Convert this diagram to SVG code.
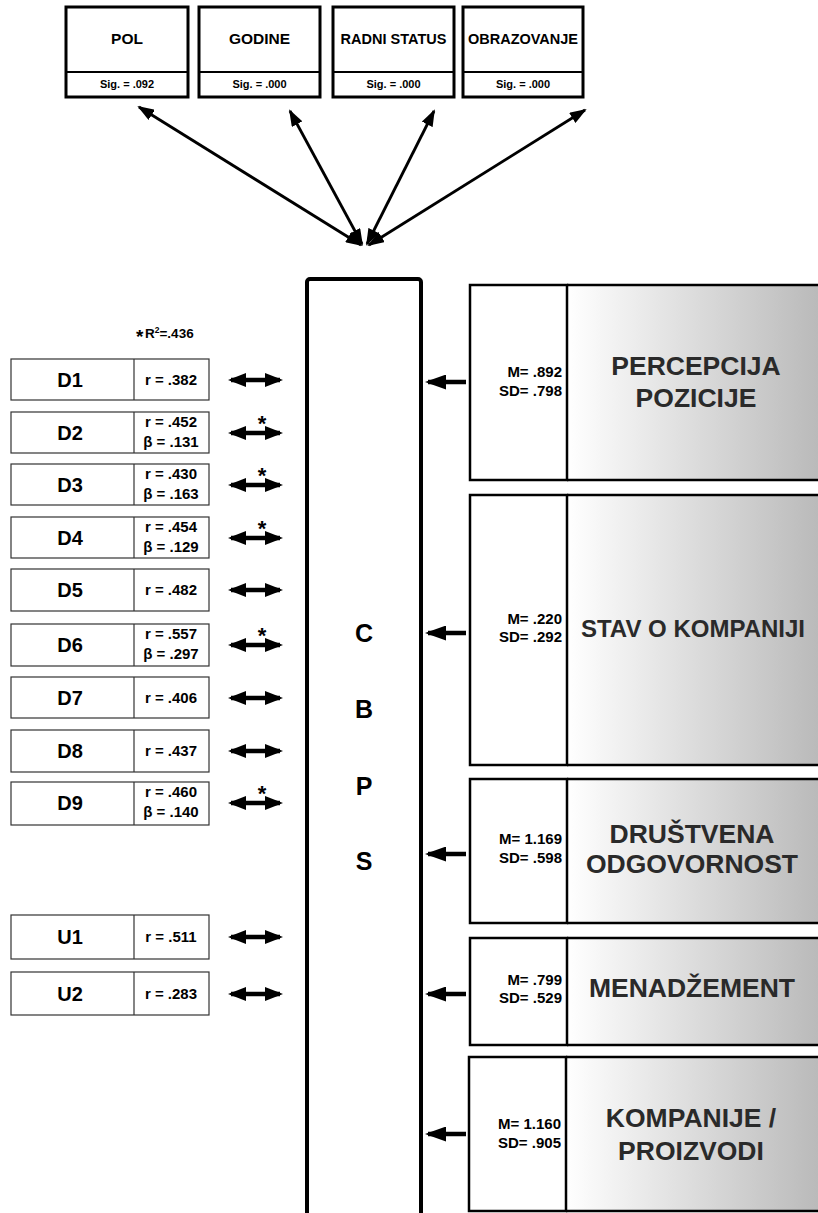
<svg xmlns="http://www.w3.org/2000/svg" width="818" height="1213" viewBox="0 0 818 1213">
  <style>
    .t { font-family: "Liberation Sans", Arial, sans-serif; font-weight: bold; fill: #000; }
    .top { fill: #fff; stroke: #000; stroke-width: 3; }
    .div { stroke: #000; stroke-width: 2; }
    .lbox { fill: #fff; stroke: #333; stroke-width: 1.2; }
    .sep { stroke: #333; stroke-width: 1.2; }
    .rbox { stroke: #000; stroke-width: 2.5; }
    .shaded { fill: url(#shade); stroke: none; }
    .edge { stroke: #000; stroke-width: 2.5; fill: none; }
    .title { font-family: "Liberation Sans", Arial, sans-serif; font-weight: bold; fill: #2a2a2a; font-size: 26.5px; text-anchor: middle; }
    .ms { font-family: "Liberation Sans", Arial, sans-serif; font-weight: bold; fill: #000; font-size: 15px; text-anchor: end; }
    .dl { font-size: 20px; text-anchor: middle; }
    .rv { font-size: 15px; text-anchor: middle; }
    .hd { font-size: 15.5px; text-anchor: middle; }
    .sig { font-size: 11px; text-anchor: middle; }
    .star { font-size: 22px; text-anchor: middle; }
    .fan { stroke: #000; stroke-width: 2.8; fill: none; }
    .dbl { stroke: #000; stroke-width: 4.5; fill: none; }
    .single { stroke: #000; stroke-width: 4.5; fill: none; }
  </style>
  <defs>
    <linearGradient id="shade" x1="0" y1="0" x2="1" y2="0">
      <stop offset="0" stop-color="#ffffff"/>
      <stop offset="1" stop-color="#bababa"/>
    </linearGradient>
    <marker id="headFan" viewBox="0 0 17 12" markerWidth="17" markerHeight="12" refX="15" refY="6" orient="auto-start-reverse" markerUnits="userSpaceOnUse">
      <path d="M0,0 L17,6 L0,12 z" fill="#000"/>
    </marker>
    <marker id="headDbl" viewBox="0 0 18 14" markerWidth="18" markerHeight="14" refX="15" refY="7" orient="auto-start-reverse" markerUnits="userSpaceOnUse">
      <path d="M0,0 L18,7 L0,14 z" fill="#000"/>
    </marker>
    <marker id="headBig" viewBox="0 0 21 15" markerWidth="21" markerHeight="15" refX="18" refY="7.5" orient="auto" markerUnits="userSpaceOnUse">
      <path d="M0,0 L21,7.5 L0,15 z" fill="#000"/>
    </marker>
  </defs>

  <!-- demographic variables -->
  <g id="pol">
    <rect class="top" x="66" y="7" width="122" height="90"/>
    <line class="div" x1="66" y1="72" x2="188" y2="72"/>
    <text class="t hd" x="127" y="44">POL</text>
    <text class="t sig" x="127" y="88">Sig. = .092</text>
  </g>
  <g id="godine">
    <rect class="top" x="199" y="7" width="121" height="90"/>
    <line class="div" x1="199" y1="72" x2="320" y2="72"/>
    <text class="t hd" x="259.5" y="44">GODINE</text>
    <text class="t sig" x="259.5" y="88">Sig. = .000</text>
  </g>
  <g id="radni-status">
    <rect class="top" x="333" y="7" width="121" height="90"/>
    <line class="div" x1="333" y1="72" x2="454" y2="72"/>
    <text class="t" x="393.5" y="44" font-size="14.5" text-anchor="middle">RADNI STATUS</text>
    <text class="t sig" x="393.5" y="88">Sig. = .000</text>
  </g>
  <g id="obrazovanje">
    <rect class="top" x="463" y="7" width="120" height="90"/>
    <line class="div" x1="463" y1="72" x2="583" y2="72"/>
    <text class="t" x="523" y="44" font-size="14.5" text-anchor="middle">OBRAZOVANJE</text>
    <text class="t sig" x="523" y="88">Sig. = .000</text>
  </g>

  <!-- central construct -->
  <g id="cbps">
    <rect x="307" y="279" width="114" height="960" rx="3" fill="#fff" stroke="#000" stroke-width="4"/>
    <text class="t" x="364" y="642" font-size="25" text-anchor="middle">C</text>
    <text class="t" x="364" y="718" font-size="25" text-anchor="middle">B</text>
    <text class="t" x="364" y="795" font-size="25" text-anchor="middle">P</text>
    <text class="t" x="364" y="870" font-size="25" text-anchor="middle">S</text>
  </g>

  <!-- factor boxes: white stats cell + shaded title cell running off the right edge -->
  <g id="percepcija-pozicije">
    <rect class="shaded" x="567" y="285" width="251" height="195"/>
    <path class="edge" d="M567,285 H818 M567,480 H818"/>
    <rect x="470" y="285" width="97" height="195" fill="#fff" class="rbox"/>
    <text class="ms" x="562" y="377">M= .892</text>
    <text class="ms" x="562" y="396">SD= .798</text>
    <text class="title" x="696" y="375">PERCEPCIJA</text>
    <text class="title" x="696" y="407">POZICIJE</text>
  </g>
  <g id="stav-o-kompaniji">
    <rect class="shaded" x="567" y="495" width="251" height="270"/>
    <path class="edge" d="M567,495 H818 M567,765 H818"/>
    <rect x="470" y="495" width="97" height="270" fill="#fff" class="rbox"/>
    <text class="ms" x="562" y="624">M= .220</text>
    <text class="ms" x="562" y="642">SD= .292</text>
    <text class="title" x="693" y="637" style="font-size:24px">STAV O KOMPANIJI</text>
  </g>
  <g id="drustvena-odgovornost">
    <rect class="shaded" x="567" y="779" width="251" height="144"/>
    <path class="edge" d="M567,779 H818 M567,923 H818"/>
    <rect x="470" y="779" width="97" height="144" fill="#fff" class="rbox"/>
    <text class="ms" x="562" y="844">M= 1.169</text>
    <text class="ms" x="562" y="863">SD= .598</text>
    <text class="title" x="692" y="843">DRUŠTVENA</text>
    <text class="title" x="692" y="873">ODGOVORNOST</text>
  </g>
  <g id="menadzement">
    <rect class="shaded" x="567" y="938" width="251" height="107"/>
    <path class="edge" d="M567,938 H818 M567,1045 H818"/>
    <rect x="470" y="938" width="97" height="107" fill="#fff" class="rbox"/>
    <text class="ms" x="562" y="985">M= .799</text>
    <text class="ms" x="562" y="1003">SD= .529</text>
    <text class="title" x="692" y="997">MENADŽEMENT</text>
  </g>
  <g id="kompanije-proizvodi">
    <rect class="shaded" x="566" y="1057" width="252" height="154"/>
    <path class="edge" d="M566,1057 H818 M566,1211 H818"/>
    <rect x="469" y="1057" width="97" height="154" fill="#fff" class="rbox"/>
    <text class="ms" x="561" y="1129">M= 1.160</text>
    <text class="ms" x="561" y="1148">SD= .905</text>
    <text class="title" x="691" y="1127">KOMPANIJE /</text>
    <text class="title" x="691" y="1160">PROIZVODI</text>
  </g>

  <!-- model fit -->
  <g id="r-squared">
    <text class="t" x="136" y="343" font-size="19">*</text>
    <text class="t" x="145" y="338" font-size="13.5">R<tspan font-size="8.5" dy="-5">2</tspan><tspan dy="5">=.436</tspan></text>
  </g>

  <!-- predictors -->
  <g id="d1">
    <rect class="lbox" x="11" y="359" width="198" height="41"/>
    <line class="sep" x1="134" y1="359" x2="134" y2="400"/>
    <text class="t dl" x="70" y="387">D1</text>
    <text class="t rv" x="171" y="385">r = .382</text>
  </g>
  <g id="d2">
    <rect class="lbox" x="11" y="412" width="198" height="41"/>
    <line class="sep" x1="134" y1="412" x2="134" y2="453"/>
    <text class="t dl" x="70" y="440">D2</text>
    <text class="t rv" x="171" y="427">r = .452</text>
    <text class="t rv" x="171" y="447">β = .131</text>
  </g>
  <g id="d3">
    <rect class="lbox" x="11" y="464" width="198" height="41"/>
    <line class="sep" x1="134" y1="464" x2="134" y2="505"/>
    <text class="t dl" x="70" y="492">D3</text>
    <text class="t rv" x="171" y="479">r = .430</text>
    <text class="t rv" x="171" y="499">β = .163</text>
  </g>
  <g id="d4">
    <rect class="lbox" x="11" y="517" width="198" height="41"/>
    <line class="sep" x1="134" y1="517" x2="134" y2="558"/>
    <text class="t dl" x="70" y="545">D4</text>
    <text class="t rv" x="171" y="532">r = .454</text>
    <text class="t rv" x="171" y="552">β = .129</text>
  </g>
  <g id="d5">
    <rect class="lbox" x="11" y="569" width="198" height="42"/>
    <line class="sep" x1="134" y1="569" x2="134" y2="611"/>
    <text class="t dl" x="70" y="597">D5</text>
    <text class="t rv" x="171" y="595">r = .482</text>
  </g>
  <g id="d6">
    <rect class="lbox" x="11" y="624" width="198" height="42"/>
    <line class="sep" x1="134" y1="624" x2="134" y2="666"/>
    <text class="t dl" x="70" y="652">D6</text>
    <text class="t rv" x="171" y="639">r = .557</text>
    <text class="t rv" x="171" y="659">β = .297</text>
  </g>
  <g id="d7">
    <rect class="lbox" x="11" y="677" width="198" height="41"/>
    <line class="sep" x1="134" y1="677" x2="134" y2="718"/>
    <text class="t dl" x="70" y="705">D7</text>
    <text class="t rv" x="171" y="703">r = .406</text>
  </g>
  <g id="d8">
    <rect class="lbox" x="11" y="730" width="198" height="42"/>
    <line class="sep" x1="134" y1="730" x2="134" y2="772"/>
    <text class="t dl" x="70" y="758">D8</text>
    <text class="t rv" x="171" y="756">r = .437</text>
  </g>
  <g id="d9">
    <rect class="lbox" x="11" y="782" width="198" height="43"/>
    <line class="sep" x1="134" y1="782" x2="134" y2="825"/>
    <text class="t dl" x="70" y="810">D9</text>
    <text class="t rv" x="171" y="797">r = .460</text>
    <text class="t rv" x="171" y="817">β = .140</text>
  </g>
  <g id="u1">
    <rect class="lbox" x="11" y="915" width="198" height="44"/>
    <line class="sep" x1="134" y1="915" x2="134" y2="959"/>
    <text class="t dl" x="70" y="944">U1</text>
    <text class="t rv" x="171" y="942">r = .511</text>
  </g>
  <g id="u2">
    <rect class="lbox" x="11" y="972" width="198" height="43"/>
    <line class="sep" x1="134" y1="972" x2="134" y2="1015"/>
    <text class="t dl" x="70" y="1001">U2</text>
    <text class="t rv" x="171" y="999">r = .283</text>
  </g>

  <!-- connectors -->
  <g id="connectors">
    <line class="fan" x1="139" y1="107" x2="361" y2="245" marker-start="url(#headFan)" marker-end="url(#headFan)"/>
    <line class="fan" x1="290" y1="111" x2="362" y2="244" marker-start="url(#headFan)" marker-end="url(#headFan)"/>
    <line class="fan" x1="434" y1="111" x2="367" y2="244" marker-start="url(#headFan)" marker-end="url(#headFan)"/>
    <line class="fan" x1="585" y1="110" x2="369" y2="245" marker-start="url(#headFan)" marker-end="url(#headFan)"/>

    <line class="dbl" x1="231" y1="380" x2="280" y2="380" marker-start="url(#headDbl)" marker-end="url(#headDbl)"/>
    <line class="dbl" x1="231" y1="433" x2="280" y2="433" marker-start="url(#headDbl)" marker-end="url(#headDbl)"/>
    <line class="dbl" x1="231" y1="485" x2="280" y2="485" marker-start="url(#headDbl)" marker-end="url(#headDbl)"/>
    <line class="dbl" x1="231" y1="538" x2="280" y2="538" marker-start="url(#headDbl)" marker-end="url(#headDbl)"/>
    <line class="dbl" x1="231" y1="590" x2="280" y2="590" marker-start="url(#headDbl)" marker-end="url(#headDbl)"/>
    <line class="dbl" x1="231" y1="645" x2="280" y2="645" marker-start="url(#headDbl)" marker-end="url(#headDbl)"/>
    <line class="dbl" x1="231" y1="698" x2="280" y2="698" marker-start="url(#headDbl)" marker-end="url(#headDbl)"/>
    <line class="dbl" x1="231" y1="751" x2="280" y2="751" marker-start="url(#headDbl)" marker-end="url(#headDbl)"/>
    <line class="dbl" x1="231" y1="803" x2="280" y2="803" marker-start="url(#headDbl)" marker-end="url(#headDbl)"/>
    <line class="dbl" x1="231" y1="937" x2="280" y2="937" marker-start="url(#headDbl)" marker-end="url(#headDbl)"/>
    <line class="dbl" x1="231" y1="994" x2="280" y2="994" marker-start="url(#headDbl)" marker-end="url(#headDbl)"/>

    <text class="t star" x="262" y="431">*</text>
    <text class="t star" x="262" y="483">*</text>
    <text class="t star" x="262" y="536">*</text>
    <text class="t star" x="262" y="643">*</text>
    <text class="t star" x="262" y="801">*</text>

    <line class="single" x1="466" y1="382" x2="428" y2="382" marker-end="url(#headBig)"/>
    <line class="single" x1="466" y1="633" x2="428" y2="633" marker-end="url(#headBig)"/>
    <line class="single" x1="466" y1="854" x2="428" y2="854" marker-end="url(#headBig)"/>
    <line class="single" x1="466" y1="994" x2="428" y2="994" marker-end="url(#headBig)"/>
    <line class="single" x1="466" y1="1134" x2="428" y2="1134" marker-end="url(#headBig)"/>
  </g>
</svg>
